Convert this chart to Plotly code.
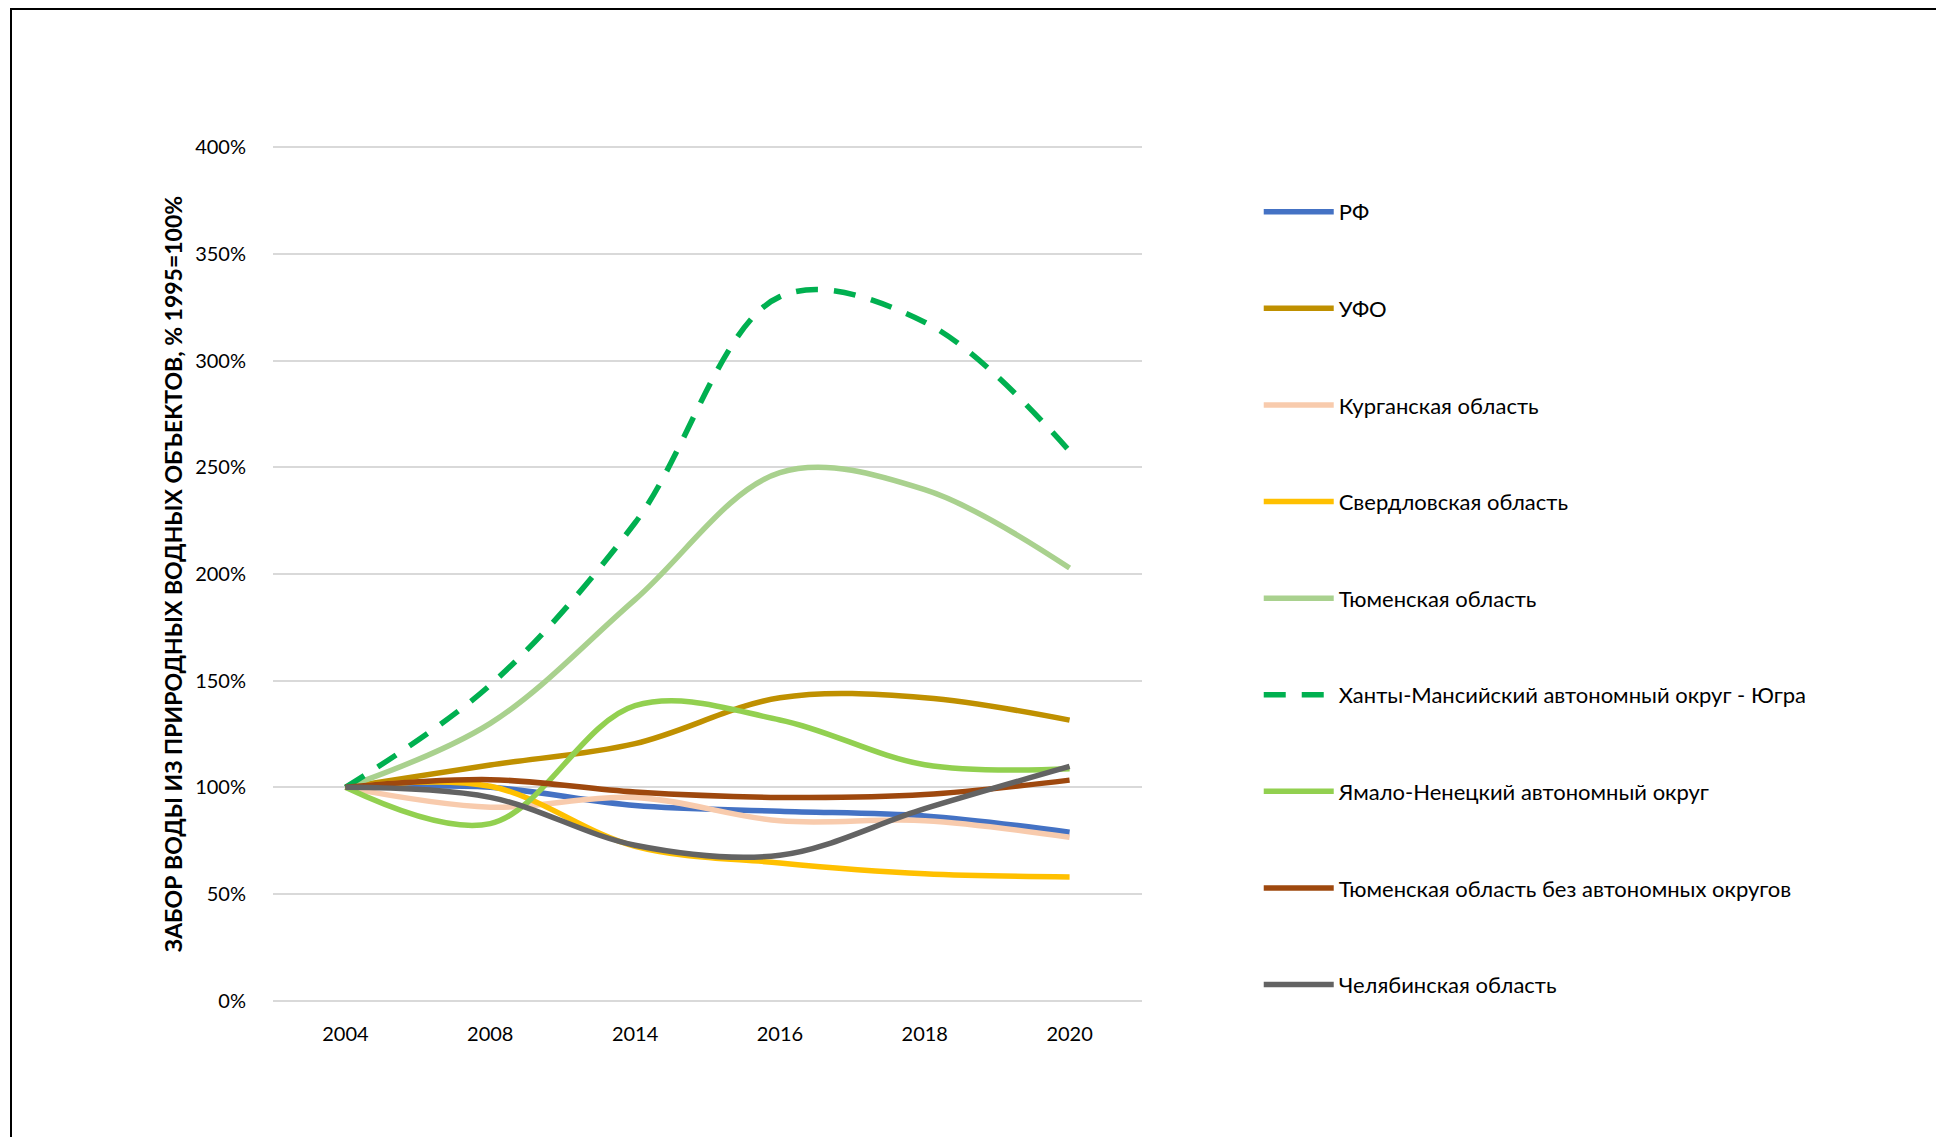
import plotly.graph_objects as go

years = ["2004", "2008", "2014", "2016", "2018", "2020"]

names = [
    "РФ",
    "УФО",
    "Курганская область",
    "Свердловская область",
    "Тюменская область",
    "Ханты-Мансийский автономный округ - Югра",
    "Ямало-Ненецкий автономный округ",
    "Тюменская область без автономных округов",
    "Челябинская область",
]

rf = [100, 100, 91.5, 88.8, 86.6, 79]
ufo = [100, 110.5, 120.5, 142, 142, 131.5]
kurgan = [100, 90.7, 95.3, 84.3, 84.4, 76.6]
sverdl = [100, 100.5, 72.4, 64.6, 59.5, 58]
tyumen = [100, 130, 188, 247.5, 239.5, 202.8]
hmao = [100, 148, 224, 330, 318, 257.6]
yanao = [100, 83, 138.3, 131.6, 110.6, 108.7]
tyumen_no_ao = [100, 103.6, 97.8, 95.3, 96.6, 103.4]
chelyab = [100, 95.3, 72.9, 68.2, 90, 109.8]

series = [rf, ufo, kurgan, sverdl, tyumen, hmao, yanao, tyumen_no_ao, chelyab]
colors = ["#4472C4", "#BF9000", "#F8CBAD", "#FFC000", "#A9D18E",
          "#00B050", "#92D050", "#9E480E", "#636363"]
dashes = ["solid", "solid", "solid", "solid", "solid", "22px,16px", "solid", "solid", "solid"]

y_ticks = [0, 50, 100, 150, 200, 250, 300, 350, 400]
y_ticktext = [f"{v}%" for v in y_ticks]

FONT = "Lato"

W, H = 1936, 1129
L, T = 265, 138
PW, PH = 869, 856
R = W - L - PW
B = H - T - PH

fig = go.Figure()
for i, (name, vals) in enumerate(zip(names, series)):
    fig.add_trace(go.Scatter(
        x=years, y=vals, name=name, mode="lines",
        line=dict(color=colors[i], width=5.5, dash=dashes[i], shape="spline", smoothing=1.0),
        legendgroup=f"g{i}",
    ))

fig.update_layout(
    width=W, height=H,
    margin=dict(l=L, r=R, t=T, b=B),
    paper_bgcolor="white", plot_bgcolor="white",
    font=dict(family=FONT, size=20, color="#000000"),
    showlegend=True,
    legend=dict(
        x=(1257 - 8 - L) / PW + 0.002, xanchor="left",
        y=0.9475, yanchor="top",
        font=dict(family=FONT, size=22, color="#000000"),
        itemwidth=70, tracegroupgap=65, bgcolor="rgba(0,0,0,0)",
    ),
    xaxis=dict(
        type="category", range=[-0.5, 5.5],
        showgrid=False, showline=False, zeroline=False,
        ticks="outside", ticklen=14, tickcolor="rgba(0,0,0,0)",
        tickfont=dict(family=FONT, size=20, color="#000000"),
    ),
    yaxis=dict(
        range=[-0.6, 400.6], tickvals=y_ticks, ticktext=y_ticktext,
        showgrid=True, gridcolor="#D9D9D9", gridwidth=2,
        zeroline=False, showline=False,
        ticks="outside", ticklen=22, tickcolor="rgba(0,0,0,0)",
        tickfont=dict(family=FONT, size=20, color="#000000"),
        title=dict(
            text="<b>ЗАБОР ВОДЫ ИЗ ПРИРОДНЫХ ВОДНЫХ ОБЪЕКТОВ, % 1995=100%</b>",
            font=dict(family=FONT, size=23, color="#000000"),
            standoff=6,
        ),
    ),
    shapes=[dict(
        type="rect", xref="paper", yref="paper",
        x0=(3 - L) / PW, x1=(W + 50 - L) / PW,
        y0=-(B + 50) / PH, y1=1 + (T - 1) / PH,
        line=dict(color="#000000", width=2), fillcolor="rgba(0,0,0,0)",
        layer="above",
    )],
)

fig.write_html("out.html")
